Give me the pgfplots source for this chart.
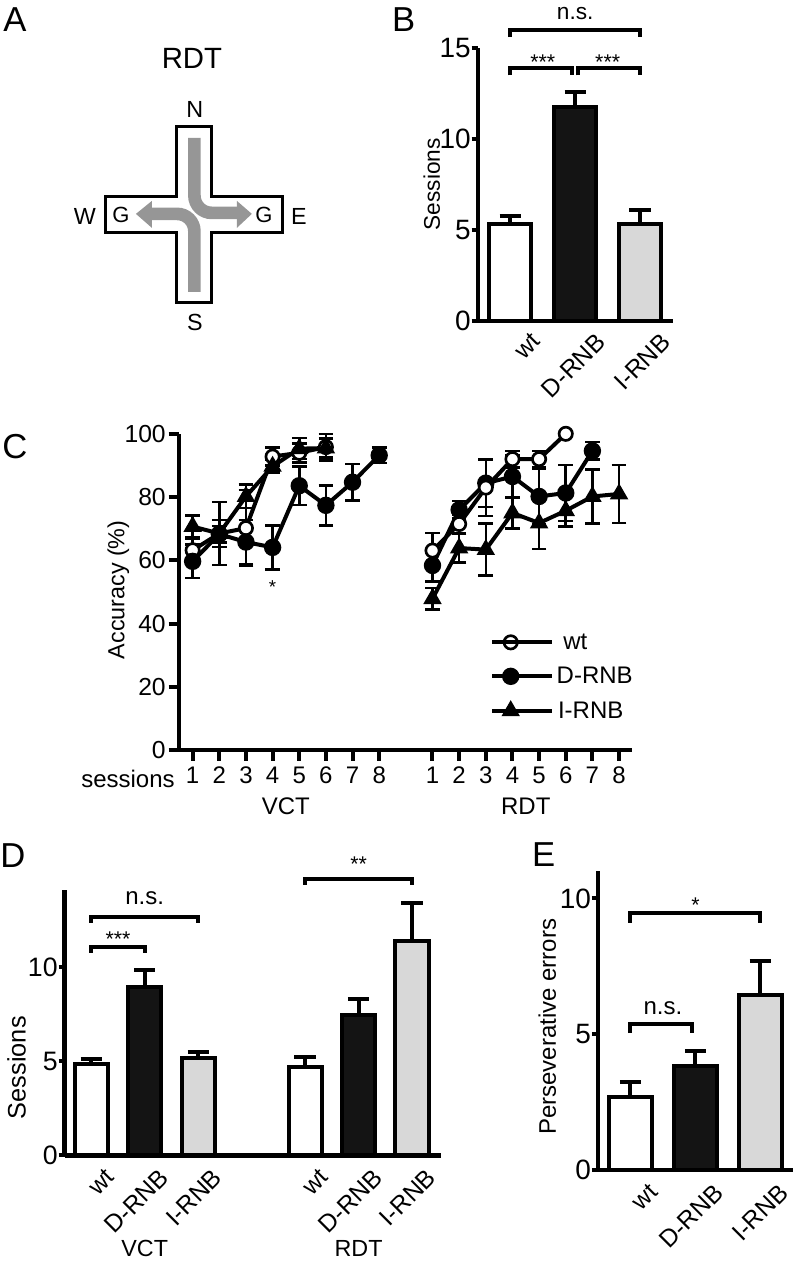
\documentclass[border=0pt]{standalone}
\usepackage{fontspec}
\setmainfont{Liberation Sans}
\usepackage{pgfplots}
\pgfplotsset{compat=1.18}
\definecolor{lgray}{RGB}{216,216,216}
\definecolor{agray}{RGB}{150,150,150}
\definecolor{bfill}{RGB}{20,20,20}
\newcommand{\fs}[1]{\fontsize{#1}{#1}\selectfont}
\tikzset{br/.style={line width=3pt, black}}
\pgfplotsset{
  panel/.style={
    scale only axis, clip=false, anchor=south west,
    axis x line*=bottom, axis y line*=left,
    axis line style={line width=3.2pt,-},
    tick style={line width=3pt, black},
    tick align=outside, major tick length=4.5pt,
    /pgf/number format/assume math mode=true,
    yticklabel style={inner sep=0.5pt},
  },
  barpanel/.style={
    panel, ybar,
    xtick={0,1,2}, xticklabels={wt,D-RNB,I-RNB},
    xtick style={draw=none},
  },
  xrot/.style 2 args={xticklabel style={font=\fs{18.5}, xshift=#1, yshift=#2, rotate=45, anchor=north east, inner sep=0pt}},
  mybar/.style={bar shift=0pt, draw=black, line width=3pt, fill=#1,
    error bars/y dir=plus, error bars/y explicit,
    error bars/error bar style={line width=3pt, black},
    error bars/error mark options={rotate=90, mark size=8pt, line width=3pt, black}},
  ln/.style={line width=3pt, black, mark size=5pt,
    error bars/y dir=both, error bars/y explicit,
    error bars/error bar style={line width=1.9pt, black},
    error bars/error mark options={rotate=90, mark size=5.5pt, line width=1.9pt, black}},
}
\begin{document}
\begin{tikzpicture}
\begin{scope}[x=0.75pt,y=-0.75pt]
\path[use as bounding box] (0,0) rectangle (797,1261);
% panel letters
\node[font=\fs{26}] at (15,20) {A};
\node[font=\fs{26}] at (404,20) {B};
\node[font=\fs{26}] at (15,447) {C};
\node[font=\fs{26}] at (13,856) {D};
\node[font=\fs{26}] at (544,855) {E};
% panel A schematic
\node[font=\fs{22}] at (192,58) {RDT};
\draw[agray, line width=9.5pt, rounded corners=13pt] (194.5,138) -- (194.5,213) -- (238,213);
\fill[agray] (237,201) -- (252,214) -- (237,228) -- cycle;
\draw[agray, line width=9.5pt, rounded corners=13pt] (194.5,292) -- (194.5,214) -- (151,214);
\fill[agray] (152,201) -- (136,214) -- (152,228) -- cycle;
\draw[line width=2.7pt, line join=miter] (176.5,126.5) -- (211.5,126.5) -- (211.5,196.5) -- (282.5,196.5) -- (282.5,232.5) -- (211.5,232.5) -- (211.5,302.5) -- (176.5,302.5) -- (176.5,232.5) -- (105.5,232.5) -- (105.5,196.5) -- (176.5,196.5) -- cycle;
\node[font=\fs{17.5}] at (195,110) {N};
\node[font=\fs{17.5}] at (195,323) {S};
\node[font=\fs{17.5}] at (85,217) {W};
\node[font=\fs{17.5}] at (299,217) {E};
\node[font=\fs{16.5}] at (121,215) {G};
\node[font=\fs{16.5}] at (264,215) {G};
\end{scope}

% ---------------- Panel B
\begin{axis}[barpanel, xrot={15pt}{-3.5pt}, at={(358.5pt,-240.75pt)}, width=146.25pt, height=204.75pt,
  xmin=-0.5, xmax=2.5, ymin=0, ymax=15, ytick={0,5,10,15}, bar width=0.65,
  yticklabel style={font=\fs{21}}]
\addplot[mybar=white] coordinates {(0,5.3) +- (0,0.47)};
\addplot[mybar=bfill] coordinates {(1,11.78) +- (0,0.82)};
\addplot[mybar=lgray] coordinates {(2,5.3) +- (0,0.8)};
\draw[br] (axis cs:0,15.6) -- (axis cs:0,16) -- (axis cs:2,16) -- (axis cs:2,15.6);
\draw[br] (axis cs:0,13.5) -- (axis cs:0,13.9) -- (axis cs:0.95,13.9) -- (axis cs:0.95,13.5);
\draw[br] (axis cs:1.05,13.5) -- (axis cs:1.05,13.9) -- (axis cs:2,13.9) -- (axis cs:2,13.5);
\node[anchor=base, font=\fs{17}, yshift=7.5pt] at (axis cs:1,16) {n.s.};
\node[anchor=base, font=\fs{16}, yshift=-0.8pt] at (axis cs:0.5,13.9) {***};
\node[anchor=base, font=\fs{16}, yshift=-0.8pt] at (axis cs:1.5,13.9) {***};
\node[font=\fs{17}, xshift=-34.5pt, rotate=90] at (rel axis cs:0,0.5) {Sessions};
\end{axis}

% ---------------- Panel C
\begin{axis}[panel, at={(134.55pt,-563.03pt)}, width=340pt, height=237.5pt,
  major tick length=8pt,
  xmin=0.5, xmax=17.5, ymin=0, ymax=100, ytick={0,20,40,60,80,100},
  xtick={1,2,3,4,5,6,7,8,10,11,12,13,14,15,16,17},
  xticklabels={1,2,3,4,5,6,7,8,1,2,3,4,5,6,7,8},
  xticklabel style={font=\fs{18}, yshift=-1pt}, yticklabel style={font=\fs{18.5}, inner sep=2pt},
  legend style={at={(axis cs:12.15,37.8)}, anchor=north west, draw=none, fill=none,
    inner sep=0pt, row sep=8pt, font=\fs{18}},
  legend cell align=left,
  legend image code/.code={\draw[mark repeat=2, mark phase=2, #1] plot coordinates {(0pt,0pt) (14pt,0pt) (28pt,0pt)}; \path (0pt,0pt) -- (45pt,0pt);},
  ]
\addplot[ln, mark=*, mark options={fill=white, line width=2pt}] coordinates {
 (1,63.2) +- (0,3.5) (2,68.5) +- (0,4.2) (3,70.2) +- (0,12) (4,92.8) +- (0,2.8) (5,94) +- (0,3) (6,95.8) +- (0,4.2)};
\addlegendentry{\hspace{5pt}wt}
\addplot[ln, mark=*, mark options={fill=black}] coordinates {
 (1,59.7) +- (0,5.3) (2,68.3) +- (0,2.6) (3,65.8) +- (0,7) (4,64.1) +- (0,7) (5,83.6) +- (0,6.1) (6,77.4) +- (0,6.3) (7,84.7) +- (0,5.8) (8,93.2) +- (0,2.4)};
\addlegendentry{D-RNB}
\addplot[ln, mark=triangle*, mark options={fill=black}] coordinates {
 (1,70.7) +- (0,3.5) (2,68.5) +- (0,10) (3,80.2) +- (0,3.7) (4,89.7) +- (0,2) (5,95.3) +- (0,3.3) (6,95.5) +- (0,3)};
\addlegendentry{\hspace{1pt}I-RNB}
\addplot[ln, forget plot, mark=triangle*, mark options={fill=black}] coordinates {
 (10,47.9) +- (0,3.4) (11,63.9) +- (0,4.5) (12,63.4) +- (0,8.2) (13,75) +- (0,5) (14,71.8) +- (0,8.2) (15,75.7) +- (0,5) (16,80.2) +- (0,8.5) (17,81) +- (0,9.2)};
\addplot[ln, forget plot, mark=*, mark options={fill=black}] coordinates {
 (10,58.4) +- (0,5) (11,76) +- (0,2.8) (12,84.4) +- (0,7.5) (13,86.5) +- (0,6.6) (14,80.2) +- (0,8.7) (15,81.3) +- (0,8.8) (16,94.6) +- (0,2.8)};
\addplot[ln, forget plot, mark=*, mark options={fill=white, line width=2pt}] coordinates {
 (10,63.1) +- (0,5.5) (11,71.5) +- (0,3) (12,83) +- (0,9) (13,92) +- (0,2.6) (14,92) +- (0,2.6) (15,100) +- (0,0)};
\node[anchor=base, font=\fs{14}] at (axis cs:4,49.6) {*};
\node[anchor=east, inner sep=0pt, font=\fs{18}, xshift=-3.3pt, yshift=-21.5pt] at (rel axis cs:0,0) {sessions};
\node[font=\fs{18}, yshift=-42pt] at (axis cs:4.5,0) {VCT};
\node[font=\fs{18}, yshift=-42pt] at (axis cs:13.5,0) {RDT};
\node[font=\fs{17.5}, xshift=-45.7pt, rotate=90] at (rel axis cs:0,0.507) {Accuracy (\%)};
\end{axis}

% ---------------- Panel D
\begin{axis}[barpanel, xrot={10pt}{-4.5pt}, at={(48.41pt,-867pt)}, width=282.86pt, height=199.5pt,
  xmin=-0.5, xmax=6.55, ymin=0, ymax=14.13, ytick={0,5,10}, bar width=0.62,
  xtick={0,1,2,4,5,6}, xticklabels={wt,D-RNB,I-RNB,wt,D-RNB,I-RNB},
  yticklabel style={font=\fs{20}}]
\addplot[mybar=white] coordinates {(0,4.85) +- (0,0.27)};
\addplot[mybar=bfill] coordinates {(1,8.93) +- (0,0.93)};
\addplot[mybar=lgray] coordinates {(2,5.15) +- (0,0.33)};
\addplot[mybar=white] coordinates {(4,4.7) +- (0,0.55)};
\addplot[mybar=bfill] coordinates {(5,7.48) +- (0,0.85)};
\addplot[mybar=lgray] coordinates {(6,11.38) +- (0,2.05)};
\draw[br] (axis cs:0,12.37) -- (axis cs:0,12.68) -- (axis cs:2,12.68) -- (axis cs:2,12.37);
\draw[br] (axis cs:0,10.78) -- (axis cs:0,11.08) -- (axis cs:1,11.08) -- (axis cs:1,10.78);
\draw[br] (axis cs:4,14.39) -- (axis cs:4,14.71) -- (axis cs:6,14.71) -- (axis cs:6,14.39);
\node[anchor=base, font=\fs{18}, yshift=9.2pt] at (axis cs:1,12.68) {n.s.};
\node[anchor=base, font=\fs{16}] at (axis cs:0.5,11.08) {***};
\node[anchor=base, font=\fs{16}, yshift=5pt] at (axis cs:5,14.71) {**};
\node[font=\fs{17.5}, yshift=-69.75pt] at (axis cs:1,0) {VCT};
\node[font=\fs{17.5}, yshift=-69.75pt] at (axis cs:5,0) {RDT};
\node[font=\fs{19}, xshift=-36pt, rotate=90] at (rel axis cs:0,0.33) {Sessions};
\end{axis}

% ---------------- Panel E
\begin{axis}[barpanel, xrot={13pt}{-4.5pt}, at={(448.73pt,-878.25pt)}, width=146.25pt, height=224.5pt,
  xmin=-0.5, xmax=2.5, ymin=0, ymax=11, ytick={0,5,10}, bar width=0.65,
  yticklabel style={font=\fs{21}}]
\addplot[mybar=white] coordinates {(0,2.68) +- (0,0.56)};
\addplot[mybar=bfill] coordinates {(1,3.82) +- (0,0.58)};
\addplot[mybar=lgray] coordinates {(2,6.45) +- (0,1.23)};
\draw[br] (axis cs:0,9.1) -- (axis cs:0,9.47) -- (axis cs:2,9.47) -- (axis cs:2,9.1);
\draw[br] (axis cs:0,5.05) -- (axis cs:0,5.38) -- (axis cs:0.95,5.38) -- (axis cs:0.95,5.05);
\node[anchor=base, font=\fs{16}] at (axis cs:1,9.47) {*};
\node[anchor=base, font=\fs{18}, yshift=6.8pt] at (axis cs:0.5,5.38) {n.s.};
\node[font=\fs{18}, xshift=-38pt, rotate=90] at (rel axis cs:0,0.48) {Perseverative errors};
\end{axis}
\end{tikzpicture}
\end{document}
